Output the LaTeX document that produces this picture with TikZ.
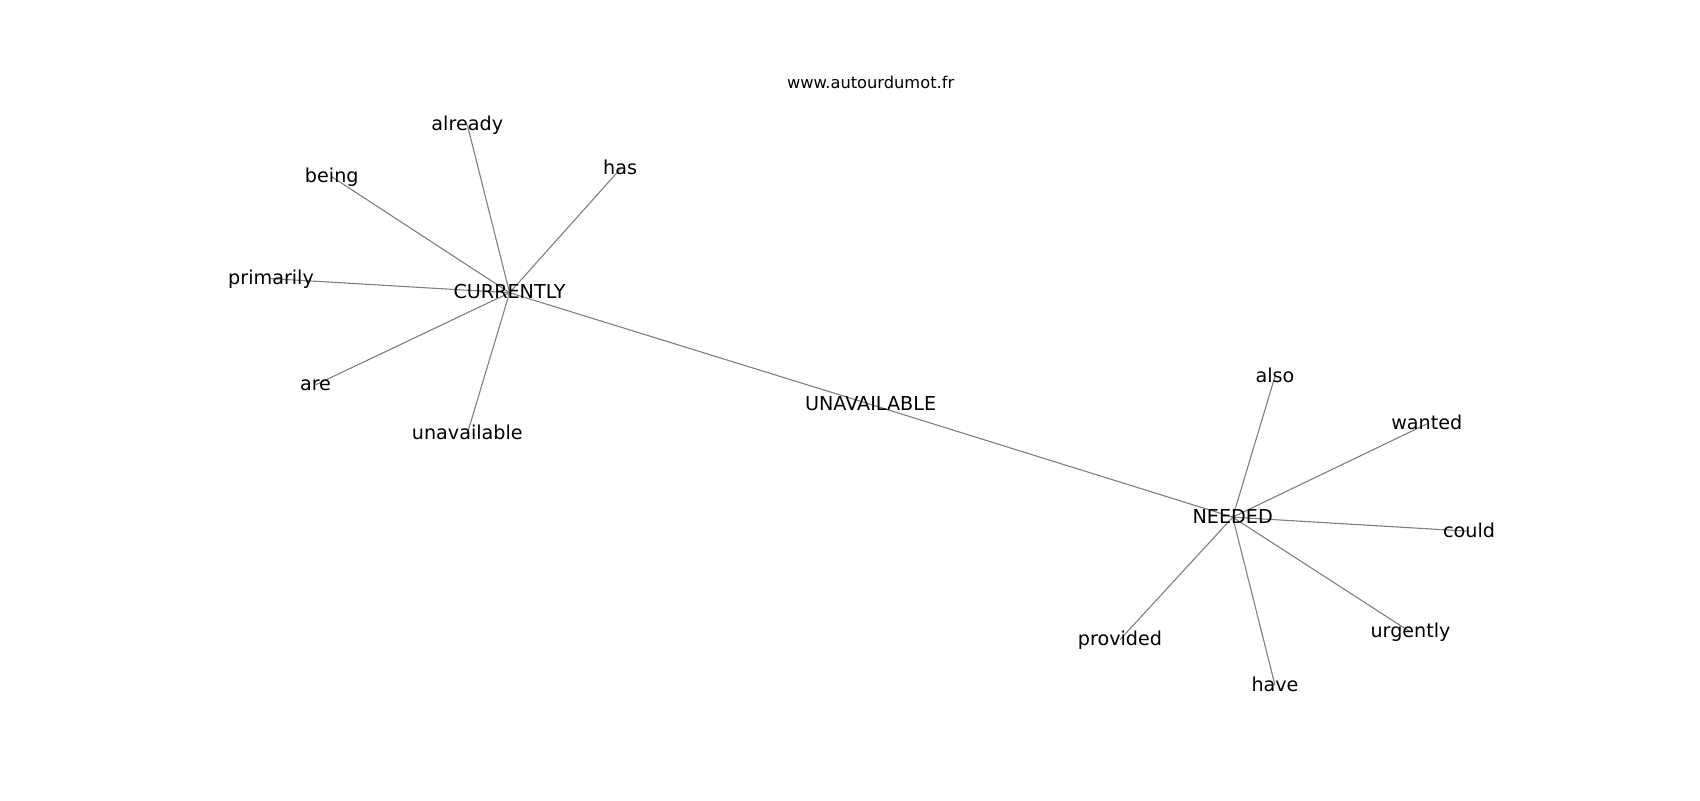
\documentclass[tikz,border=0pt]{standalone}
\usepackage{fontspec}
\setmainfont{DejaVu Sans}
\begin{document}
\begin{tikzpicture}[x=0.7806pt,y=-0.7806pt,
  lbl/.style={anchor=base,inner sep=0pt,yshift=-4.2pt,font=\fontsize{13.8}{16}\selectfont,text=black},
  ttl/.style={anchor=base,inner sep=0pt,font=\fontsize{11.7}{14}\selectfont,text=black},
  edge/.style={draw=gray,line width=0.8pt}]
\useasboundingbox (0,0) rectangle (1568,738);
% node positions
\coordinate (cur) at (470,270);
\coordinate (una) at (803,373);
\coordinate (nee) at (1137,477);
\coordinate (already) at (431,115);
\coordinate (being) at (306,163);
\coordinate (has) at (572,156);
\coordinate (primarily) at (250,257);
\coordinate (are) at (291,355);
\coordinate (unavailable) at (431,400);
\coordinate (also) at (1176,347);
\coordinate (wanted) at (1316,391);
\coordinate (could) at (1355,490);
\coordinate (urgently) at (1301,583);
\coordinate (have) at (1176,632);
\coordinate (provided) at (1033,590);
% edges
\foreach \n in {already,being,has,primarily,are,unavailable}
  \draw[edge] (cur) -- (\n);
\foreach \n in {also,wanted,could,urgently,have,provided}
  \draw[edge] (nee) -- (\n);
\draw[edge] (cur) -- (una);
\draw[edge] (una) -- (nee);
% labels
\node[lbl] (curL) at (cur) {CURRENTLY};
\node[lbl] (unaL) at (una) {UNAVAILABLE};
\node[lbl] (neeL) at (nee) {NEEDED};
\node[lbl] (alreadyL) at (already) {already};
\node[lbl] (beingL) at (being) {being};
\node[lbl] (hasL) at (has) {has};
\node[lbl] (primarilyL) at (primarily) {primarily};
\node[lbl] (areL) at (are) {are};
\node[lbl] (unavailableL) at (unavailable) {unavailable};
\node[lbl] (alsoL) at (also) {also};
\node[lbl] (wantedL) at (wanted) {wanted};
\node[lbl] (couldL) at (could) {could};
\node[lbl] (urgentlyL) at (urgently) {urgently};
\node[lbl] (haveL) at (have) {have};
\node[lbl] (providedL) at (provided) {provided};
\node[ttl] (title) at (803,82) {www.autourdumot.fr};
\end{tikzpicture}
\end{document}
